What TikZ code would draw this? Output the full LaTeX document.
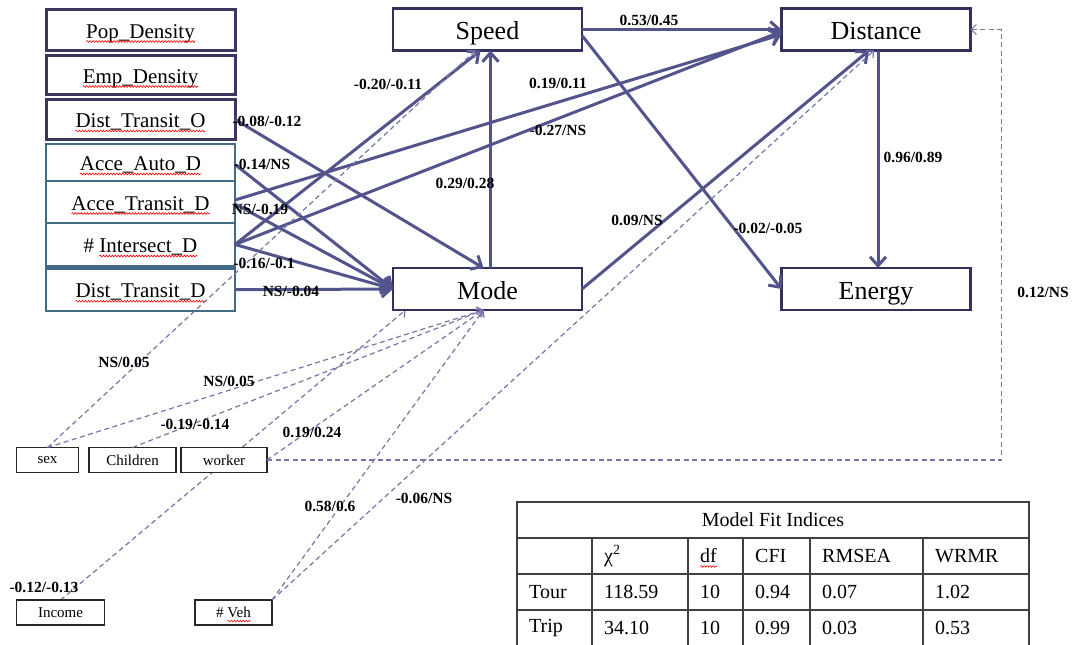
\documentclass[tikz,border=0pt]{standalone}
\usepackage{fontspec}
\setmainfont{Liberation Serif}
\usetikzlibrary{arrows.meta,positioning,backgrounds,decorations.pathmorphing}
\definecolor{pathblue}{RGB}{84,84,140}
\definecolor{dashblue}{RGB}{118,118,168}
\definecolor{mainedge}{RGB}{52,48,92}
\definecolor{landedge}{RGB}{58,54,96}
\definecolor{destedge}{RGB}{66,108,134}
\newcommand\spellwave[1]{\tikz[baseline=(sw.base),x=1pt,y=1pt]{\node[inner sep=0pt,outer sep=0pt,minimum width=0pt,minimum height=0pt,text height=,text depth=,draw=none,fill=none] (sw) {#1};
  \draw[overlay,red,line width=0.6pt,decorate,decoration={snake,amplitude=0.9pt,segment length=3pt}] ([yshift=-3.5pt]sw.base west) -- ([yshift=-3.5pt]sw.base east);}}
\tikzset{main box/.style={rectangle,draw=mainedge,line width=2.5pt,fill=white,minimum width=189pt,minimum height=42pt,inner sep=0pt,outer sep=0pt,text height=22pt,text depth=2pt,font=\fontsize{26}{30}\selectfont},
         land box/.style={rectangle,draw=landedge,line width=3pt,fill=white,minimum width=189pt,inner sep=0pt,outer sep=0pt,text height=19pt,text depth=3pt,font=\fontsize{21}{25}\selectfont},
         dest box/.style={rectangle,draw=destedge,line width=2.5pt,fill=white,minimum width=189pt,inner sep=0pt,outer sep=0pt,text height=19pt,text depth=3pt,font=\fontsize{21}{25}\selectfont},
         person box/.style={rectangle,draw=black!85,line width=1.5pt,fill=white,minimum height=25pt,inner sep=0pt,outer sep=0pt,font=\fontsize{15}{18}\selectfont},
         path label/.style={inner sep=0pt,font=\bfseries\fontsize{15.5}{18}\selectfont},
         effect/.style={draw=pathblue,line width=3pt,-{Straight Barb[length=9pt,width=16pt]}},
         control/.style={draw=dashblue,line width=1.2pt,dash pattern=on 5pt off 3.5pt,-{Straight Barb[length=5pt,width=10pt]}},
         table rule/.style={draw=black!75,line width=1.5pt},
         fit cell/.style={anchor=west,inner sep=0pt,font=\fontsize{20}{24}\selectfont},
}

\begin{document}
\begin{tikzpicture}[x=1pt,y=-1pt]

\useasboundingbox (0,0) rectangle (1076,645);

% left stack of built-environment variables
\node[land box,minimum height=41pt] (pop) at (140.5,30) {\spellwave{Pop\_Density}};
\node[land box,minimum height=39pt,below=5pt of pop] (emp) {\spellwave{Emp\_Density}};
\node[land box,minimum height=40pt,below=5pt of emp] (dto) {\spellwave{Dist\_Transit\_O}};
\node[dest box,minimum height=37pt,below=4.5pt of dto] (aad) {\spellwave{Acce\_Auto\_D}};
\node[dest box,minimum height=42pt,below=0pt of aad] (atd) {\spellwave{Acce\_Transit\_D}};
\node[dest box,minimum height=43pt,below=0pt of atd] (intd) {\# \spellwave{Intersect\_D}};
\node[dest box,minimum height=42.5pt,below=2.5pt of intd] (dtd) {\spellwave{Dist\_Transit\_D}};

% travel outcomes
\node[main box] (speed) at (487.5,29.5) {Speed};
\node[main box] (distance) at (876,29.5) {Distance};
\node[main box] (mode) at (487.5,289) {Mode};
\node[main box] (energy) at (876,289) {Energy};

% socio-demographics
\node[person box,minimum width=62pt] (sex) at (47.5,460) {sex};
\node[person box,minimum width=87pt,right=10.5pt of sex] (children) {Children};
\node[person box,minimum width=86pt,right=5pt of children] (worker) {worker};
\node[person box,minimum width=88pt] (income) at (60.5,612.5) {Income};
\node[person box,minimum width=77pt] (veh) at (233.5,612.5) {\# \spellwave{Veh}};

% solid paths
\draw[effect] (dto.east) -- ([xshift=-4pt]mode.north);
\draw[effect] ([yshift=-2pt]aad.east) -- (mode.west);
\draw[effect] ([yshift=-2pt]atd.east) -- (mode.west);
\draw[effect] (intd.east) -- (mode.west);
\draw[effect] (dtd.east) -- (mode.west);
\draw[effect] ([yshift=2pt]atd.east) -- ([yshift=-5pt]distance.west);
\draw[effect] (intd.east) -- ([yshift=-2pt]distance.west);
\draw[effect] (intd.east) -- ([xshift=-7pt]speed.south);
\draw[effect] ([xshift=3pt]mode.north) -- ([xshift=3pt]speed.south);
\draw[effect] (speed.east) -- (distance.west);
\draw[effect] ([yshift=-6pt]speed.east) -- (energy.west);
\draw[effect] (mode.east) -- ([xshift=-7pt]distance.south);
\draw[effect] ([xshift=2pt]distance.south) -- ([xshift=2pt]energy.north);

% dashed paths
\draw[control] (sex.north) -- ([xshift=-12pt]speed.south);
\draw[control] (sex.north) -- ([xshift=-4pt]mode.south);
\draw[control] (children.north) -- ([xshift=-4pt]mode.south);
\draw[control] (worker.east) -- ([xshift=-4pt]mode.south);
\draw[control] (veh.north east) -- ([xshift=-4pt]mode.south);
\draw[control] (veh.north east) -- ([xshift=-2pt]distance.south);
\draw[control] (worker.east) -| ([xshift=31pt]distance.east) -- (distance.east);
\begin{scope}[on background layer]
\fill[white] (0,0) rectangle (1076,645);
\draw[control] (income.north) -- ([xshift=-82pt]mode.south);
\end{scope}

% coefficients
\node[path label] (l1) at (267,121) {-0.08/-0.12};
\node[path label] (l2) at (262,164) {-0.14/NS};
\node[path label] (l3) at (260,209) {NS/-0.19};
\node[path label] (l4) at (264,263) {-0.16/-0.1};
\node[path label] (l5) at (291,291) {NS/-0.04};
\node[path label] (l6) at (388,84) {-0.20/-0.11};
\node[path label] (l7) at (558,83) {0.19/0.11};
\node[path label] (l8) at (558,130) {-0.27/NS};
\node[path label] (l9) at (465,183) {0.29/0.28};
\node[path label] (l10) at (637,220) {0.09/NS};
\node[path label] (l11) at (649,20) {0.53/0.45};
\node[path label] (l12) at (913,157) {0.96/0.89};
\node[path label] (l13) at (768,228) {-0.02/-0.05};
\node[path label] (l14) at (1043,292) {0.12/NS};
\node[path label] (l15) at (124,362) {NS/0.05};
\node[path label] (l16) at (229,381) {NS/0.05};
\node[path label] (l17) at (195,424) {-0.19/-0.14};
\node[path label] (l18) at (312,432) {0.19/0.24};
\node[path label] (l19) at (330,506) {0.58/0.6};
\node[path label] (l20) at (424,498) {-0.06/NS};
\node[path label] (l21) at (44,587) {-0.12/-0.13};

% model fit table
\draw[table rule] (517,502) rectangle (1029,646);
\foreach \y in {538,574,610} \draw[table rule] (517,\y) -- (1029,\y);
\foreach \x in {592,688,743,810,923} \draw[table rule] (\x,538) -- (\x,646);
\node[fit cell,anchor=center] (fittitle) at (773,520) {Model Fit Indices};
\node[fit cell] (hchi) at (604,556) {χ\textsuperscript{2}};
\node[fit cell] (hdf) at (700,556) {\spellwave{df}};
\node[fit cell] (hcfi) at (755,556) {CFI};
\node[fit cell] (hrmsea) at (822,556) {RMSEA};
\node[fit cell] (hwrmr) at (935,556) {WRMR};
\node[fit cell] (tour) at (529,592) {Tour};
\node[fit cell] (tourchi) at (604,592) {118.59};
\node[fit cell] (tourdf) at (700,592) {10};
\node[fit cell] (tourcfi) at (755,592) {0.94};
\node[fit cell] (tourrmsea) at (822,592) {0.07};
\node[fit cell] (tourwrmr) at (935,592) {1.02};
\node[fit cell] (trip) at (529,628) {Trip};
\node[fit cell] (tripchi) at (604,628) {34.10};
\node[fit cell] (tripdf) at (700,628) {10};
\node[fit cell] (tripcfi) at (755,628) {0.99};
\node[fit cell] (triprmsea) at (822,628) {0.03};
\node[fit cell] (tripwrmr) at (935,628) {0.53};
\end{tikzpicture}
\end{document}
